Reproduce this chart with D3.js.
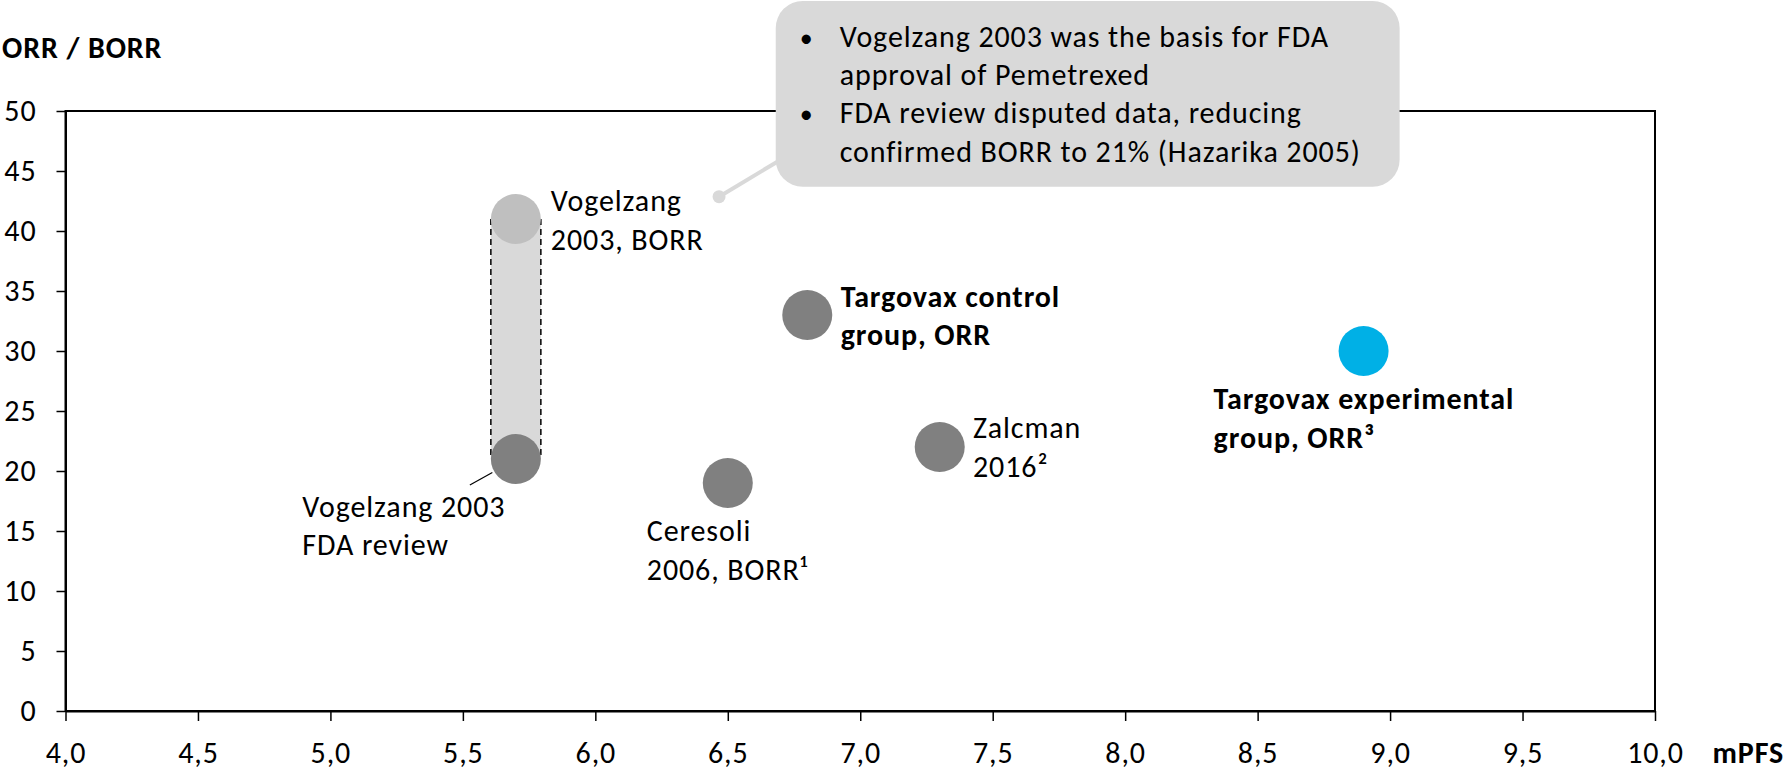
<!DOCTYPE html>
<html>
<head>
<meta charset="utf-8">
<script src="https://cdn.jsdelivr.net/npm/d3@7"></script>
<style>
  html, body { margin: 0; padding: 0; background: #fff; }
  svg { display: block; }
  text { font-family: Calibri, Carlito, Lato, sans-serif; fill: #000; letter-spacing: 0.9px; }
</style>
</head>
<body>
<svg id="chart" width="1784" height="770"></svg>
<script>
// ---------------- data ----------------
const studies   = ["Vogelzang 2003, BORR", "Vogelzang 2003 FDA review", "Ceresoli 2006, BORR", "Targovax control group, ORR", "Zalcman 2016", "Targovax experimental group, ORR"];
const mPFS      = [5.7, 5.7, 6.5, 6.8, 7.3, 8.9];
const orr       = [41, 21, 19, 33, 22, 30];
const kinds     = ["borr", "fda", "other", "other", "other", "exp"];
const labelLines = [
  ["Vogelzang", "2003, BORR"],
  ["Vogelzang 2003", "FDA review"],
  ["Ceresoli", "2006, BORR\u00B9"],
  ["Targovax control", "group, ORR"],
  ["Zalcman", "2016\u00B2"],
  ["Targovax experimental", "group, ORR\u00B3"]
];
const labelBold = [false, false, false, true, false, true];
const xTicks = [4.0, 4.5, 5.0, 5.5, 6.0, 6.5, 7.0, 7.5, 8.0, 8.5, 9.0, 9.5, 10.0];
const yTicks = [0, 5, 10, 15, 20, 25, 30, 35, 40, 45, 50];
const xTitle = "mPFS";
const yTitle = "ORR / BORR";
const calloutLines = [
  {bullet: true,  text: "Vogelzang 2003 was the basis for FDA"},
  {bullet: false, text: "approval of Pemetrexed"},
  {bullet: true,  text: "FDA review disputed data, reducing"},
  {bullet: false, text: "confirmed BORR to 21% (Hazarika 2005)"}
];
// callout anchor and box in data units
const calloutAnchor = {x: 6.467, y: 42.86};
const calloutBox = {x0: 6.681, x1: 9.036, y0: 43.69, y1: 59.17};

// ---------------- styles / layout ----------------
const FS = 30;
const LH = 38.5;
const colors = {borr: "#bfbfbf", fda: "#808080", other: "#808080", exp: "#00b0e6", band: "#d9d9d9", callout: "#d9d9d9"};
const R = 25;
// label offsets (pixels) relative to point: start x, first baseline
const labelOffsets = [
  {dx: 35, dy: -8},
  {dx: -213.5, dy: 57.7},
  {dx: -81, dy: 58.4},
  {dx: 33.4, dy: -8.3},
  {dx: 33.3, dy: -9},
  {dx: -150, dy: 58.3}
];

const svg = d3.select("#chart");
svg.append("rect").attr("width", 1784).attr("height", 770).attr("fill", "#fff");

const x = d3.scaleLinear().domain([4, 10]).range([65.5, 1655]);
const y = d3.scaleLinear().domain([0, 50]).range([711, 111]);

const locale = d3.formatLocale({decimal: ",", thousands: ".", grouping: [3], currency: ["", ""]});
const fmtX = locale.format(".1f");

// plot frame
svg.append("rect")
  .attr("x", x(4)).attr("y", y(50))
  .attr("width", x(10) - x(4)).attr("height", y(0) - y(50))
  .attr("fill", "none").attr("stroke", "#000").attr("stroke-width", 2);

// axes
const gy = svg.append("g").attr("transform", `translate(${x(4)},0)`)
  .call(d3.axisLeft(y).tickValues(yTicks).tickSize(9).tickSizeOuter(0).tickPadding(20).tickFormat(d3.format("d")));
const gx = svg.append("g").attr("transform", `translate(0,${y(0)})`)
  .call(d3.axisBottom(x).tickValues(xTicks).tickSize(10).tickSizeOuter(0).tickPadding(21).tickFormat(fmtX));
[gx, gy].forEach(g => {
  g.select(".domain").attr("stroke", "#000").attr("stroke-width", 2);
  g.selectAll(".tick line").attr("stroke", "#000").attr("stroke-width", 1.5);
  g.selectAll(".tick text").attr("font-size", FS).attr("font-family", "Calibri, Carlito, Lato, sans-serif").attr("fill", "#000");
});

// axis titles
svg.append("text").attr("x", 2).attr("y", 58).attr("font-size", FS).attr("font-weight", "bold").text(yTitle);
svg.append("text").attr("x", 1784).attr("y", 763).attr("text-anchor", "end").attr("font-size", FS).attr("font-weight", "bold").text(xTitle);

// Vogelzang range band (BORR -> FDA review)
const iTop = 0, iBot = 1;
svg.append("rect")
  .attr("x", x(mPFS[iTop]) - R).attr("y", y(orr[iTop]))
  .attr("width", 2 * R).attr("height", y(orr[iBot]) - y(orr[iTop]))
  .attr("fill", colors.band);
[-R, R].forEach(off => {
  svg.append("line")
    .attr("x1", x(mPFS[iTop]) + off).attr("x2", x(mPFS[iTop]) + off)
    .attr("y1", y(orr[iTop])).attr("y2", y(orr[iBot]))
    .attr("stroke", "#000").attr("stroke-width", 1.5).attr("stroke-dasharray", "6,4");
});

// points
svg.append("g").selectAll("circle").data(d3.range(studies.length)).join("circle")
  .attr("cx", i => x(mPFS[i])).attr("cy", i => y(orr[i])).attr("r", R)
  .attr("fill", i => colors[kinds[i]]);

// leader line from FDA-review label to its point
svg.append("line")
  .attr("x1", x(mPFS[1]) - 46).attr("y1", y(orr[1]) + 26)
  .attr("x2", x(mPFS[1]) - 23.5).attr("y2", y(orr[1]) + 13.5)
  .attr("stroke", "#000").attr("stroke-width", 1.2);

// point labels
const lab = svg.append("g").selectAll("text").data(d3.range(studies.length)).join("text")
  .attr("font-size", FS)
  .attr("font-weight", i => labelBold[i] ? "bold" : "normal")
  .attr("x", i => x(mPFS[i]) + labelOffsets[i].dx)
  .attr("y", i => y(orr[i]) + labelOffsets[i].dy);
lab.each(function(i) {
  const t = d3.select(this);
  labelLines[i].forEach((ln, k) => {
    t.append("tspan").attr("x", x(mPFS[i]) + labelOffsets[i].dx)
      .attr("y", y(orr[i]) + labelOffsets[i].dy + k * LH).text(ln);
  });
});

// callout connector
const bx0 = x(calloutBox.x0), bx1 = x(calloutBox.x1), by0 = y(calloutBox.y1), by1 = y(calloutBox.y0);
svg.append("line")
  .attr("x1", x(calloutAnchor.x)).attr("y1", y(calloutAnchor.y))
  .attr("x2", bx0 + 10).attr("y2", by1 - 30)
  .attr("stroke", colors.callout).attr("stroke-width", 4);
svg.append("circle").attr("cx", x(calloutAnchor.x)).attr("cy", y(calloutAnchor.y)).attr("r", 6.5).attr("fill", colors.callout);

// callout box
svg.append("rect")
  .attr("x", bx0).attr("y", by0).attr("width", bx1 - bx0).attr("height", by1 - by0)
  .attr("rx", 27).attr("ry", 27).attr("fill", colors.callout);
const cg = svg.append("g");
calloutLines.forEach((ln, k) => {
  const by = 46.7 + k * 38.3;
  if (ln.bullet) cg.append("text").attr("x", bx0 + 31).attr("y", by).attr("text-anchor", "middle").attr("font-size", 26).text("\u2022");
  cg.append("text").attr("x", bx0 + 64).attr("y", by).attr("font-size", FS).text(ln.text);
});
</script>
</body>
</html>
